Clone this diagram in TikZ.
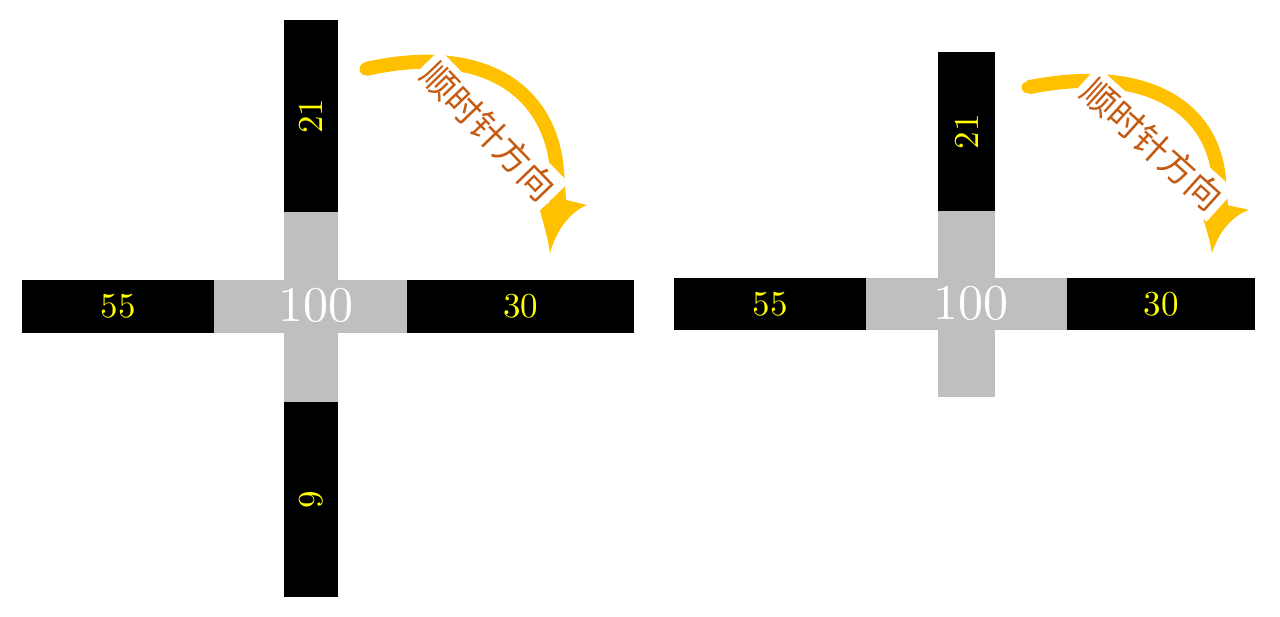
\documentclass[tikz,border=0pt]{standalone}
\usepackage{fontspec}
\newfontfamily\cjk{Noto Sans CJK SC}
\newfontfamily\lmten{lmroman10-regular.otf}
\definecolor{arrowyellow}{HTML}{FFC000}
\definecolor{textbrown}{HTML}{C55A11}
\definecolor{labelyellow}{HTML}{FFFF00}
\definecolor{crossgray}{HTML}{BFBFBF}
\newcommand\cwarrow{%
  \draw[shaft] (366,69) .. controls (495,40) and (565,100) .. (557,200);
  \fill[arrowyellow] (366,69) circle (6.5);
  \fill[arrowyellow] (550,185) -- (565,185) -- (566,200) -- (587,205) .. controls (568,213) and (556,232) .. (550,253) .. controls (548,238) and (543,222) .. (539,207) -- (549,203) -- cycle;
}
\begin{document}
\begin{tikzpicture}[x=1pt,y=-1pt,
  bar/.style={fill=black, inner sep=0pt, outer sep=0pt, text=labelyellow, font=\lmten\fontsize{35}{35}\selectfont},
  vbar/.style={bar, rotate=90},
  grayarm/.style={fill=crossgray, inner sep=0pt, outer sep=0pt},
  centerlabel/.style={text=white, inner sep=0pt, font=\lmten\fontsize{50}{50}\selectfont},
  cwtext/.style={text=textbrown, fill=white, inner sep=5pt, font=\cjk\fontsize{35}{35}\selectfont},
  shaft/.style={draw=arrowyellow, line width=14pt}
]
\useasboundingbox (0,0) rectangle (1280,616);

% left cross
\node[grayarm, minimum width=54pt, minimum height=190pt] (Lv) at (311,307) {};
\node[grayarm, minimum width=193pt, minimum height=53pt] (Lh) at (310.5,306.5) {};
\node[vbar, minimum width=192pt, minimum height=54pt] (L21) at (311,116) {21};
\node[vbar, minimum width=195pt, minimum height=54pt] (L9) at (311,499.5) {9};
\node[bar, minimum width=192pt, minimum height=53pt] (L55) at (118,306.5) {55};
\node[bar, minimum width=227pt, minimum height=53pt] (L30) at (520.5,306.5) {30};
\node[centerlabel] (L100) at (315.5,305.5) {100};

% right cross
\node[grayarm, minimum width=57pt, minimum height=186pt] (Rv) at (966.5,304) {};
\node[grayarm, minimum width=201pt, minimum height=52pt] (Rh) at (966.5,304) {};
\node[vbar, minimum width=159pt, minimum height=57pt] (R21) at (966.5,131.5) {21};
\node[bar, minimum width=192pt, minimum height=52pt] (R55) at (770,304) {55};
\node[bar, minimum width=188pt, minimum height=52pt] (R30) at (1161,304) {30};
\node[centerlabel] (R100) at (971,303) {100};

% arrows
\cwarrow
\begin{scope}[shift={(662,253)}, yscale=0.9, shift={(0,-253)}]
  \cwarrow
\end{scope}
\node[cwtext, rotate=-46] (Ltxt) at (489,131) {顺时针方向};
\node[cwtext, rotate=-42] (Rtxt) at (1152,144) {顺时针方向};
\end{tikzpicture}
\end{document}
